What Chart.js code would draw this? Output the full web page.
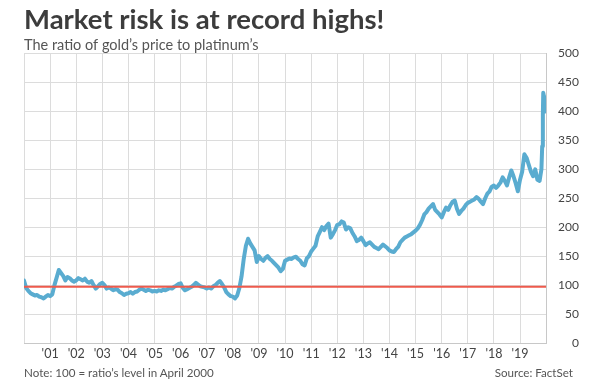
<!DOCTYPE html>
<html><head><meta charset="utf-8">
<script src="https://cdn.jsdelivr.net/npm/chart.js@4.4.1/dist/chart.umd.min.js"></script>
<style>
html,body{margin:0;padding:0;background:#fff;}
#wrap{position:relative;width:600px;height:392px;overflow:hidden;}
canvas{position:absolute;left:0;top:0;}
.note{position:absolute;top:366px;font-family:Lato,sans-serif;font-size:11.6px;color:#555;white-space:nowrap;}
</style></head><body>
<div id="wrap"><canvas id="c" width="600" height="392"></canvas>
<div class="note" style="left:24px">Note: 100 = ratio’s level in April 2000</div>
<div class="note" style="right:27px">Source: FactSet</div></div>
<script>
// Gold/platinum ratio, monthly from Jan 2000 through Oct 2019
const startYear = 2000;
const monthlyRatio = [
  108, 95, 90, 86, 84, 82, 83, 80, 79, 77, 80, 83,          // 2000
  81, 84, 100, 113, 126, 121, 116, 108, 114, 112, 108, 106, // 2001
  108, 112, 110, 108, 111, 106, 104, 107, 100, 94, 98, 102, // 2002
  104, 100, 94, 96, 94, 91, 93, 92, 88, 86, 83, 85,         // 2003
  86, 88, 85, 88, 89, 92, 94, 92, 90, 92, 91, 89,           // 2004
  90, 89, 91, 90, 92, 91, 93, 95, 94, 97, 99, 102,          // 2005
  103, 95, 91, 93, 95, 97, 100, 104, 101, 98, 97, 96,       // 2006
  94, 96, 94, 98, 100, 104, 107, 102, 96, 88, 84, 81,       // 2007
  80, 77, 82, 95, 115, 145, 168, 180, 172, 166, 160, 140,   // 2008
  150, 145, 142, 147, 150, 145, 142, 138, 134, 130, 124, 128, // 2009
  142, 144, 146, 145, 148, 149, 145, 142, 136, 134, 146, 150, // 2010
  158, 163, 168, 184, 192, 200, 195, 202, 206, 182, 188, 195, // 2011
  204, 205, 210, 208, 196, 200, 198, 190, 184, 176, 178, 182, // 2012
  176, 169, 172, 174, 170, 166, 164, 162, 166, 170, 167, 164, // 2013
  160, 158, 157, 162, 166, 174, 178, 182, 184, 186, 188, 191, // 2014
  194, 198, 204, 212, 222, 226, 232, 236, 240, 230, 226, 222, // 2015
  217, 226, 234, 230, 238, 244, 246, 232, 223, 228, 232, 238, // 2016
  242, 244, 246, 248, 252, 249, 244, 240, 250, 258, 262, 270, // 2017
  272, 268, 272, 277, 286, 280, 272, 286, 298, 288, 276, 262, // 2018
  282, 296, 326, 320, 308, 296, 288, 300, 282, 280            // 2019 Jan-Oct
];
// Final spike (decimal years)
const spikeDates = [2019.82, 2019.85, 2019.875, 2019.89, 2019.92, 2019.94, 2019.96, 2019.97];
const spikeRatio = [300, 340, 395, 432, 425, 405, 420, 400];
const referenceLevel = 97;
const yearLabels = ["", "'01", "'02", "'03", "'04", "'05", "'06", "'07", "'08", "'09", "'10",
  "'11", "'12", "'13", "'14", "'15", "'16", "'17", "'18", "'19", ""];

const ratioPoints = monthlyRatio.map((v, i) => ({ x: startYear + i / 12, y: v }))
  .concat(spikeDates.map((d, i) => ({ x: d, y: spikeRatio[i] })));

new Chart(document.getElementById('c'), {
  type: 'line',
  data: {
    datasets: [
      { data: [{ x: 2000, y: referenceLevel }, { x: 2020, y: referenceLevel }],
        borderColor: '#ee5a4c', borderWidth: 2, pointRadius: 0 },
      { data: ratioPoints, borderColor: '#5aacd0', borderWidth: 4, pointRadius: 0,
        tension: 0, borderJoinStyle: 'round', borderCapStyle: 'round' }
    ]
  },
  options: {
    responsive: false, animation: false, devicePixelRatio: 1,
    layout: { padding: { left: 24, right: 21, top: 0, bottom: 28 } },
    plugins: {
      legend: { display: false }, tooltip: { enabled: false },
      title: { display: true, text: 'Market risk is at record highs!', align: 'start',
        color: '#3c3c3c', font: { family: 'Lato', size: 27.5, weight: 'bold', lineHeight: 1.2 },
        padding: { top: 4, bottom: 0 } },
      subtitle: { display: true, text: 'The ratio of gold’s price to platinum’s', align: 'start',
        color: '#555', font: { family: 'Lato', size: 14.5, lineHeight: 1.0 },
        padding: { top: 1, bottom: 1 } }
    },
    scales: {
      x: { type: 'linear', min: 2000, max: 2020,
        ticks: { stepSize: 1, autoSkip: false, maxRotation: 0, padding: 3, color: '#444',
          font: { family: 'Lato', size: 12.5 },
          callback: v => yearLabels[Math.round(v) - startYear] },
        grid: { color: '#dcdcdc', drawTicks: false },
        border: { color: '#c8c8c8' } },
      y: { position: 'right', min: 0, max: 500,
        ticks: { stepSize: 50, padding: 6, crossAlign: 'far', color: '#444',
          font: { family: 'Lato', size: 12 } },
        grid: { color: '#dcdcdc', drawTicks: false },
        border: { color: '#c8c8c8' } }
    }
  }
});
</script></body></html>
